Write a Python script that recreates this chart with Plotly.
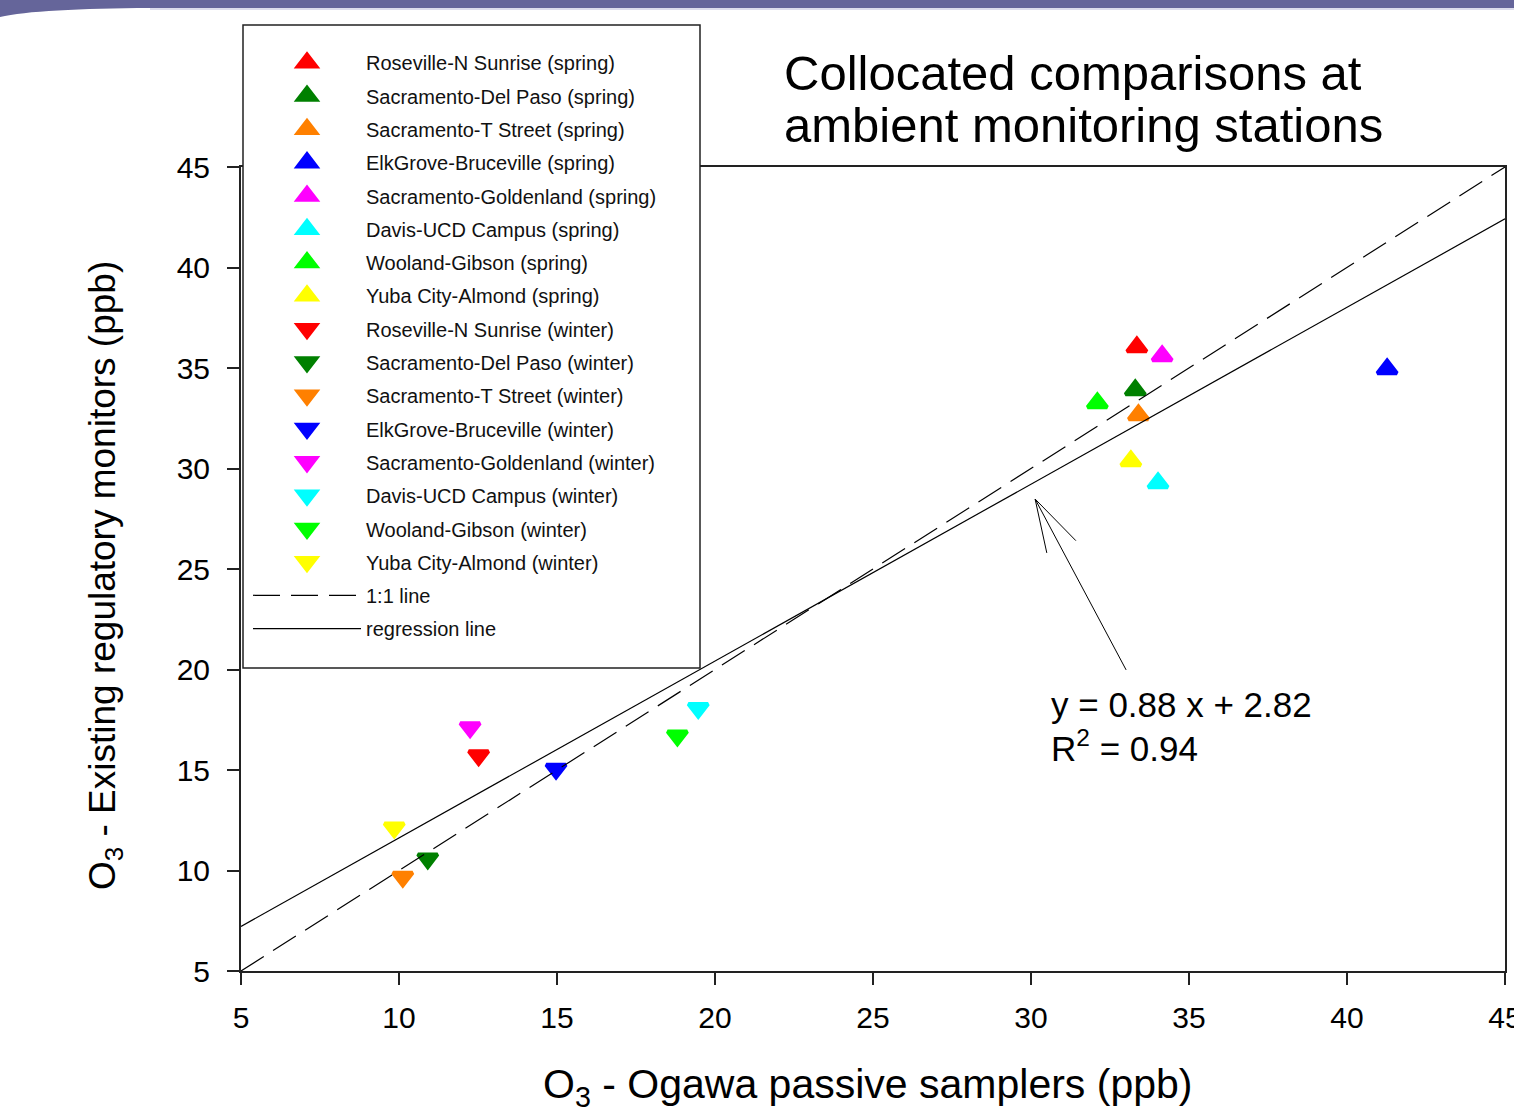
import plotly.graph_objects as go

# ---------------- data ----------------
stations = ["Roseville-N Sunrise", "Sacramento-Del Paso", "Sacramento-T Street",
            "ElkGrove-Bruceville", "Sacramento-Goldenland", "Davis-UCD Campus",
            "Wooland-Gibson", "Yuba City-Almond"]
colors = ["#ff0000", "#008000", "#ff8000", "#0000ff", "#ff00ff", "#00ffff", "#00ff00", "#ffff00"]

spring_x = [33.35, 33.30, 33.40, 41.27, 34.15, 34.02, 32.10, 33.16]
spring_y = [36.04, 33.90, 32.66, 34.95, 35.60, 29.28, 33.26, 30.37]
winter_x = [12.52, 10.91, 10.12, 14.97, 12.25, 19.47, 18.81, 9.85]
winter_y = [15.72, 10.59, 9.68, 15.05, 17.11, 18.07, 16.70, 12.13]

slope = 0.88
intercept = 2.82
r2 = 0.94
x_range = [5, 45]
tick_vals = [5, 10, 15, 20, 25, 30, 35, 40, 45]

# ---------------- layout geometry (pixels) ----------------
W, H = 1514, 1107
ML, MR, MT, MB = 241, 9, 167, 136
PW = W - ML - MR
PH = H - MT - MB


def px(xp):
    return (xp - ML) / PW


def py(yp):
    return (H - MB - yp) / PH


FONT = "Liberation Sans, Arial, sans-serif"
MSIZE = 17
MLINE = 4

fig = go.Figure()

rank = 1
for i, name in enumerate(stations):
    fig.add_trace(go.Scatter(
        x=[spring_x[i]], y=[spring_y[i]], mode="markers",
        name=f"{name} (spring)", legendgroup=f"s{i}", legendrank=rank,
        marker=dict(symbol="triangle-up", size=MSIZE, color=colors[i],
                    line=dict(width=MLINE, color=colors[i])),
    ))
    rank += 1
for i, name in enumerate(stations):
    fig.add_trace(go.Scatter(
        x=[winter_x[i]], y=[winter_y[i]], mode="markers",
        name=f"{name} (winter)", legendgroup=f"w{i}", legendrank=rank,
        marker=dict(symbol="triangle-down", size=MSIZE, color=colors[i],
                    line=dict(width=MLINE, color=colors[i])),
    ))
    rank += 1

fig.add_trace(go.Scatter(
    x=x_range, y=x_range, mode="lines", name="1:1 line", legendgroup="l1", legendrank=rank,
    line=dict(color="black", width=1.2, dash="27px,11px"),
))
rank += 1
fig.add_trace(go.Scatter(
    x=x_range, y=[slope * v + intercept for v in x_range], mode="lines",
    name="regression line", legendgroup="l2", legendrank=rank,
    line=dict(color="black", width=1.2),
))

shapes = []
# slide header band
band_path = (f"M {px(0)},{py(0)} L {px(W)},{py(0)} L {px(W)},{py(8)} L {px(150)},{py(8)} "
             f"C {px(80)},{py(8.5)} {px(25)},{py(11)} {px(0)},{py(17)} Z")
shapes.append(dict(type="path", xref="paper", yref="paper", path=band_path,
                   fillcolor="#65659a", line=dict(width=0), layer="above"))
shapes.append(dict(type="line", xref="paper", yref="paper", x0=px(150), x1=px(W), y0=py(9), y1=py(9),
                   line=dict(color="#d0d0e6", width=1.5), layer="above"))
# legend box
shapes.append(dict(type="rect", xref="paper", yref="paper",
                   x0=px(243), x1=px(700), y0=py(668), y1=py(25),
                   fillcolor="white", line=dict(color="#222", width=1.5), layer="above"))
# arrow pointing to regression line
arrow_tip = (30.13, 28.48)
arrow_tail = (33.01, 19.98)
arrow_legs = [(30.50, 25.80), (31.42, 26.41)]
shapes.append(dict(type="line", xref="x", yref="y", x0=arrow_tail[0], y0=arrow_tail[1],
                   x1=arrow_tip[0], y1=arrow_tip[1], line=dict(color="black", width=1)))
for lx, ly in arrow_legs:
    shapes.append(dict(type="line", xref="x", yref="y", x0=lx, y0=ly,
                       x1=arrow_tip[0], y1=arrow_tip[1], line=dict(color="black", width=1)))

annotations = [
    dict(text="Collocated comparisons at", xref="paper", yref="paper", x=px(782), y=py(73),
         xanchor="left", yanchor="middle", showarrow=False, font=dict(size=49, color="black", family=FONT)),
    dict(text="ambient monitoring stations", xref="paper", yref="paper", x=px(782), y=py(125),
         xanchor="left", yanchor="middle", showarrow=False, font=dict(size=49, color="black", family=FONT)),
    dict(text=f"y = {slope:.2f} x + {intercept:.2f}", xref="paper", yref="paper", x=px(1049), y=py(704),
         xanchor="left", yanchor="middle", showarrow=False, font=dict(size=35, color="black", family=FONT)),
    dict(text=f"R<sup>2</sup> = {r2:.2f}", xref="paper", yref="paper", x=px(1049), y=py(746),
         xanchor="left", yanchor="middle", showarrow=False, font=dict(size=35, color="black", family=FONT)),
    dict(text="O<sub>3</sub> - Ogawa passive samplers (ppb)", xref="paper", yref="paper",
         x=px(867), y=py(1087), xanchor="center", yanchor="middle", showarrow=False,
         font=dict(size=41, color="black", family=FONT)),
    dict(text="O<sub>3</sub> - Existing regulatory monitors (ppb)", xref="paper", yref="paper",
         x=px(105), y=py(576), xanchor="center", yanchor="middle", showarrow=False, textangle=-90,
         font=dict(size=37, color="black", family=FONT)),
]

axis_common = dict(
    range=x_range, tickvals=tick_vals, showgrid=False, zeroline=False,
    showline=True, linecolor="#222", linewidth=2, mirror=True,
    ticks="outside", ticklen=12, tickwidth=1.5, tickcolor="#222",
    ticklabeloverflow="allow",
    tickfont=dict(size=30, color="black", family=FONT),
)

fig.update_layout(
    width=W, height=H,
    margin=dict(l=ML, r=MR, t=MT, b=MB, pad=0, autoexpand=False),
    paper_bgcolor="white", plot_bgcolor="white",
    font=dict(family=FONT, color="black"),
    xaxis=dict(axis_common, ticklabelstandoff=7),
    yaxis=dict(axis_common, ticklabelstandoff=11),
    showlegend=True,
    legend=dict(xref="container", yref="container", x=248 / W, y=1 - 43 / H,
                xanchor="left", yanchor="top",
                bgcolor="rgba(0,0,0,0)", borderwidth=0, itemwidth=108,
                traceorder="grouped", tracegroupgap=4.3, maxheight=900,
                font=dict(size=20, color="#111", family=FONT)),
    shapes=shapes,
    annotations=annotations,
)

fig.write_html("out.html", config={"displayModeBar": False},
               post_script="document.body.style.margin='0';document.body.style.padding='0';")
